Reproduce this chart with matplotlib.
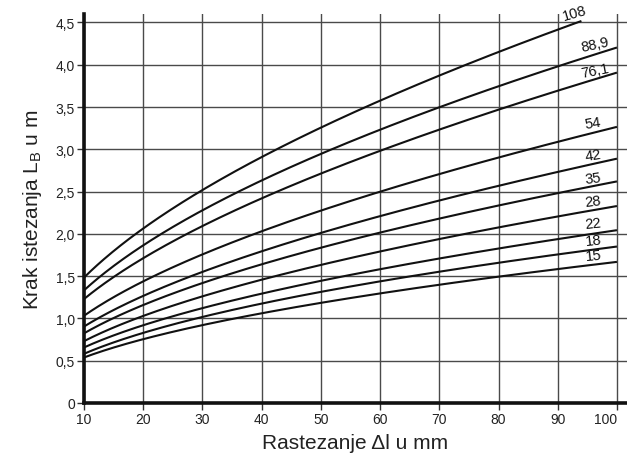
import numpy as np
import matplotlib
matplotlib.use("Agg")
import matplotlib.pyplot as plt
from numpy.polynomial import polynomial as P

plt.rcParams['font.family'] = ['Liberation Sans', 'DejaVu Sans']

# ---- data ----
x = [10, 20, 30, 40, 50, 60, 70, 80, 90, 100]
x_108 = [10, 20, 30, 40, 50, 60, 70, 80, 90, 94]

L_108 = [1.49, 2.04, 2.52, 2.91, 3.28, 3.59, 3.88, 4.14, 4.41, 4.50]
L_889 = [1.34, 1.84, 2.27, 2.64, 2.97, 3.25, 3.51, 3.74, 3.97, 4.18]
L_761 = [1.24, 1.68, 2.08, 2.43, 2.74, 3.01, 3.25, 3.48, 3.68, 3.86]
L_54 = [1.035, 1.43, 1.75, 2.03, 2.30, 2.50, 2.71, 2.90, 3.08, 3.26]
L_42 = [0.91, 1.25, 1.54, 1.80, 2.03, 2.22, 2.41, 2.57, 2.73, 2.86]
L_35 = [0.83, 1.14, 1.41, 1.65, 1.85, 2.02, 2.20, 2.35, 2.47, 2.59]
L_28 = [0.735, 1.02, 1.25, 1.47, 1.64, 1.80, 1.95, 2.08, 2.19, 2.32]
L_22 = [0.656, 0.92, 1.12, 1.31, 1.44, 1.57, 1.70, 1.82, 1.95, 2.05]
L_18 = [0.585, 0.82, 1.01, 1.19, 1.32, 1.44, 1.55, 1.67, 1.75, 1.84]
L_15 = [0.54, 0.75, 0.91, 1.08, 1.19, 1.29, 1.40, 1.49, 1.58, 1.67]

labels = ["108", "88,9", "76,1", "54", "42", "35", "28", "22", "18", "15"]
xs_list = [x_108] + [x] * 9
ys_list = [L_108, L_889, L_761, L_54, L_42, L_35, L_28, L_22, L_18, L_15]
label_x = [92.8, 96.3, 96.3, 96.0, 96.0, 96.0, 96.0, 96.0, 96.0, 96.0]
label_rot = [16, 12, 11, 9, 8, 7, 7, 6, 6, 5]

x_ticks = [10, 20, 30, 40, 50, 60, 70, 80, 90, 100]
y_ticks = [0, 0.5, 1.0, 1.5, 2.0, 2.5, 3.0, 3.5, 4.0, 4.5]
y_ticklabels = ["0", "0,5", "1,0", "1,5", "2,0", "2,5", "3,0", "3,5", "4,0", "4,5"]

# ---- figure ----
fig = plt.figure(figsize=(6.27, 4.60), dpi=100)
ax = fig.add_axes([84 / 627, 56 / 460, 543 / 627, 389 / 460])
ax.set_xlim(10, 101.7)
ax.set_ylim(0, 4.6)

for xs, ys in zip(xs_list, ys_list):
    xx = np.array(xs, dtype=float)
    yy = np.array(ys, dtype=float)
    # smooth rendering through the read points (log-log quadratic fit)
    xf = np.linspace(xx[0], xx[-1], 300)
    c = P.polyfit(np.log(xx), np.log(yy), 2)
    yf = np.exp(P.polyval(np.log(xf), c))
    ax.plot(xf, yf, color="#111111", lw=1.5, solid_capstyle="butt", zorder=3)

for lab, xs, ys, lx, rot in zip(labels, xs_list, ys_list, label_x, label_rot):
    ly = np.interp(lx, xs, ys)
    ax.annotate(lab, (lx, ly), xytext=(0, 1.5), textcoords="offset points",
                ha="center", va="bottom", rotation=rot, fontsize=10.5,
                color="#111111", annotation_clip=False, zorder=4)

ax.set_xticks(x_ticks)
ax.set_yticks(y_ticks)
ax.set_yticklabels(y_ticklabels)
ax.grid(True, color="#4a4a4a", lw=1.0, zorder=1)
ax.set_axisbelow(True)

for s in ["top", "right"]:
    ax.spines[s].set_visible(False)
ax.spines["left"].set_linewidth(2.6)
ax.spines["bottom"].set_linewidth(2.6)
ax.spines["left"].set_color("#111111")
ax.spines["bottom"].set_color("#111111")
ax.tick_params(axis="both", direction="out", length=5, width=1.0,
               color="#333333", labelsize=10, labelcolor="#222222", pad=1.5)
# keep the last x tick label inside the figure
ax.get_xticklabels()[-1].set_horizontalalignment("center")
for t in ax.get_xticklabels():
    if t.get_text() == "100":
        t.set_horizontalalignment("right")
        t.set_x(101.4)

ax.set_xlabel("Rastezanje \u0394l u mm", fontsize=15, color="#222222", labelpad=5)
ax.set_ylabel("Krak istezanja L$_\\mathregular{B}$ u m", fontsize=15,
              color="#222222", labelpad=8)

fig.savefig("out.png", dpi=100)
